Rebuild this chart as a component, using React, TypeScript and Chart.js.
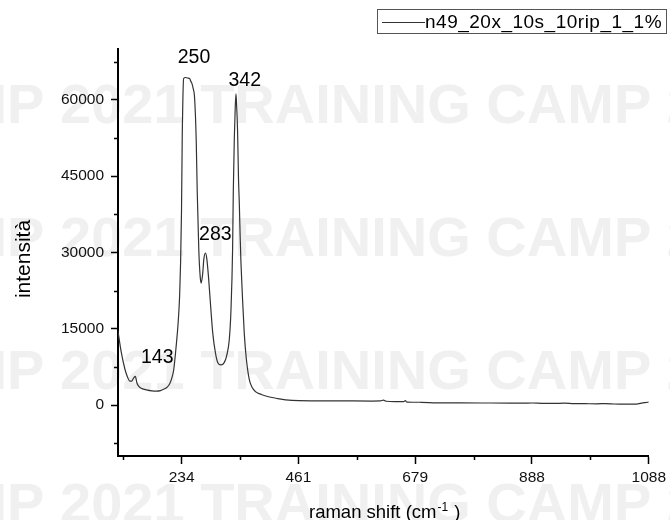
import React, { useEffect, useRef } from 'react';
import { Chart, registerables } from 'chart.js';
Chart.register(...registerables);

const seriesName = 'n49_20x_10s_10rip_1_1%';
const xTickLabels = ['234', '461', '679', '888', '1088'];
const yTickValues = [0, 15000, 30000, 45000, 60000];
const yMinorValues = [-7500, 7500, 22500, 37500, 52500, 67500];
const yMin = -10000;
const yMax = 70000;

const ramanShift = [
  106.6, 113, 120.6, 126, 130.6, 134, 138.5, 141.5, 145, 148.5, 155, 164.1, 175, 184, 192, 200.3, 206, 210.4,
  214.5, 218.5, 223.6, 227, 230.1, 232, 233.8, 235.4, 236.6, 238, 242, 246, 249.8, 252, 254.5, 257, 259.6,
  262.9, 264.9, 266.0, 268.0, 270.7, 272.7, 275.8, 277.8, 281.1, 283.6, 287.0, 290.3, 295.4, 300.6, 305.1,
  311.7, 318.1, 322.6, 327.8, 331.1, 334.2, 335.6, 337.5, 339.4, 340.8, 341.9, 343.9, 345.8, 347.2, 349,
  350.5, 353.6, 357, 360.5, 366.5, 372, 379.4, 390, 398.6, 410.5, 418.3, 436.7, 461.9, 495, 527.8, 560, 600,
  615, 620.6, 626, 645, 658, 660.8, 664, 690, 717.1, 760, 800, 850, 870, 888.9, 905, 925, 945, 960, 980, 1000,
  1015, 1030, 1045, 1060, 1070, 1076.3, 1082, 1088,
];
const intensity = [
  14500, 10500, 7050, 5500, 4700, 4700, 5400, 5650, 4300, 3700, 3250, 3000, 2800, 2750, 2850, 3200, 3600, 4200,
  5300, 7050, 12000, 16000, 21500, 28000, 38000, 54000, 60500, 64200, 64400, 64300, 64200, 63700, 63200, 62200, 60500,
  52100, 42000, 38000, 30500, 25300, 24000, 26000, 28600, 29900, 28900, 25300, 20800, 14200, 10300, 8400,
  7900, 8400, 9700, 12900, 18800, 30500, 42000, 52100, 58600, 61200, 59300, 54000, 44200, 40000, 33000,
  28000, 20800, 14000, 9500, 5100, 3500, 2600, 2100, 1800, 1500, 1350, 1050, 880, 850, 850, 820, 800,
  820, 980, 760, 700, 680, 900, 600, 560, 450, 430, 420, 400, 380, 420, 360, 340, 380, 300, 280, 260,
  300, 220, 180, 200, 260, 400, 500, 600,
];

const peakLabels = ['143', '250', '283', '342'];
const peakLabelShift = [185.5, 258.5, 300.5, 357.8];
const peakLabelValue = [8220, 67160, 32500, 62660];

const xTitle = 'raman shift (cm';
const xTitleSup = '-1';
const xTitleEnd = ')';
const yTitle = 'intensità';
const watermarkText = 'CAMP 2021 TRAINING CAMP 2021';

const FONT = '"Liberation Sans", Arial, sans-serif';
const tickShift = xTickLabels.map(Number);

// axis position (tick index units) for a Raman shift, from the tick label spacing
function shiftToPos(s: number): number {
  const a = tickShift[0];
  const k = -(tickShift[2] - 2 * tickShift[1] + tickShift[0]) / 2;
  const b = tickShift[1] - tickShift[0] + k;
  return (b - Math.sqrt(b * b - 4 * k * (s - a))) / (2 * k);
}

const overlayPlugin = {
  id: 'overlay',
  beforeDraw(chart: any) {
    const ctx = chart.ctx;
    ctx.save();
    ctx.fillStyle = '#ffffff';
    ctx.fillRect(0, 0, chart.width, chart.height);
    ctx.font = `bold 56px ${FONT}`;
    ctx.fillStyle = '#f0f0f0';
    ctx.textBaseline = 'alphabetic';
    ctx.textAlign = 'left';
    const startX = 60 - ctx.measureText('CAMP ').width;
    [123, 256, 389, 522].forEach((y) => ctx.fillText(watermarkText, startX, y));
    ctx.restore();
  },
  afterDraw(chart: any) {
    const ctx = chart.ctx;
    const xs = chart.scales.x;
    const ys = chart.scales.y;
    const area = chart.chartArea;
    ctx.save();
    // minor ticks
    ctx.strokeStyle = '#000';
    ctx.lineWidth = 1.5;
    ctx.beginPath();
    for (let i = -1; i < xTickLabels.length - 1; i++) {
      const px = Math.round(xs.getPixelForValue(i + 0.5)) + 0.5;
      if (px < area.left) continue;
      ctx.moveTo(px, area.bottom);
      ctx.lineTo(px, area.bottom + 4);
    }
    yMinorValues.forEach((v) => {
      const py = Math.round(ys.getPixelForValue(v)) + 0.5;
      ctx.moveTo(area.left, py);
      ctx.lineTo(area.left - 4, py);
    });
    ctx.stroke();

    // peak labels
    ctx.fillStyle = '#000';
    ctx.font = `19.5px ${FONT}`;
    ctx.textAlign = 'center';
    ctx.textBaseline = 'alphabetic';
    peakLabels.forEach((t, i) => {
      ctx.fillText(t, xs.getPixelForValue(shiftToPos(peakLabelShift[i])), ys.getPixelForValue(peakLabelValue[i]));
    });

    // y title
    ctx.save();
    ctx.translate(30, 259);
    ctx.rotate(-Math.PI / 2);
    ctx.font = `21px ${FONT}`;
    ctx.textAlign = 'center';
    ctx.fillText(yTitle, 0, 0);
    ctx.restore();

    // x title
    ctx.textAlign = 'left';
    ctx.font = `18.5px ${FONT}`;
    const w1 = ctx.measureText(xTitle).width;
    ctx.font = `12px ${FONT}`;
    const w2 = ctx.measureText(xTitleSup).width;
    let tx = 309;
    const ty = 518;
    ctx.font = `18.5px ${FONT}`;
    ctx.fillText(xTitle, tx, ty);
    tx += w1 + 1;
    ctx.font = `12px ${FONT}`;
    ctx.fillText(xTitleSup, tx, ty - 7);
    tx += w2 + 6;
    ctx.font = `18.5px ${FONT}`;
    ctx.fillText(xTitleEnd, tx, ty);

    // legend
    ctx.fillStyle = '#fff';
    ctx.fillRect(377, 9, 290, 24);
    ctx.strokeStyle = '#555';
    ctx.lineWidth = 1;
    ctx.strokeRect(377.5, 9.5, 289, 24);
    ctx.strokeStyle = '#333';
    ctx.lineWidth = 1.2;
    ctx.beginPath();
    ctx.moveTo(382, 22.5);
    ctx.lineTo(425, 22.5);
    ctx.stroke();
    ctx.fillStyle = '#000';
    ctx.font = `19px ${FONT}`;
    (ctx as any).letterSpacing = '0.5px';
    ctx.textAlign = 'left';
    ctx.fillText(seriesName, 425, 28);
    ctx.restore();
  },
};

export default function App() {
  const canvasRef = useRef<HTMLCanvasElement | null>(null);

  useEffect(() => {
    const canvas = canvasRef.current;
    if (!canvas) return;
    const points = ramanShift.map((s, i) => ({ x: shiftToPos(s), y: intensity[i] }));
    const chart = new Chart(canvas, {
      type: 'line',
      data: {
        datasets: [
          {
            label: seriesName,
            data: points,
            borderColor: '#333333',
            borderWidth: 1.2,
            pointRadius: 0,
            cubicInterpolationMode: 'monotone',
            fill: false,
          },
        ],
      },
      options: {
        animation: false,
        responsive: false,
        devicePixelRatio: 1,
        layout: { padding: { top: 49, right: 18, left: 0, bottom: 0 } },
        plugins: { legend: { display: false }, tooltip: { enabled: false }, title: { display: false } },
        scales: {
          x: {
            type: 'linear',
            min: shiftToPos(ramanShift[0]),
            max: xTickLabels.length - 1,
            afterBuildTicks: (scale: any) => {
              scale.ticks = xTickLabels.map((_, i) => ({ value: i }));
            },
            afterFit: (scale: any) => {
              scale.height = 64;
            },
            grid: { drawOnChartArea: false, drawTicks: true, tickLength: 8, tickColor: '#000', tickWidth: 1.5 },
            border: { display: true, color: '#000', width: 2 },
            ticks: {
              autoSkip: false,
              maxRotation: 0,
              padding: 4,
              color: '#111',
              font: { family: FONT, size: 15.5 },
              callback: (v: any) => xTickLabels[Math.round(Number(v))] ?? '',
            },
          },
          y: {
            type: 'linear',
            min: yMin,
            max: yMax,
            afterBuildTicks: (scale: any) => {
              scale.ticks = yTickValues.map((v) => ({ value: v }));
            },
            afterFit: (scale: any) => {
              scale.width = 118;
            },
            grid: { drawOnChartArea: false, drawTicks: true, tickLength: 7, tickColor: '#000', tickWidth: 1.5 },
            border: { display: true, color: '#000', width: 2 },
            ticks: {
              padding: 7,
              color: '#111',
              font: { family: FONT, size: 15.5 },
              callback: (v: any) => String(v),
            },
          },
        },
      },
      plugins: [overlayPlugin],
    });
    return () => chart.destroy();
  }, []);

  return (
    <div style={{ position: 'absolute', left: 0, top: 0, width: 670, height: 520 }}>
      <canvas ref={canvasRef} width={670} height={520} style={{ display: 'block', width: 670, height: 520 }} />
    </div>
  );
}
